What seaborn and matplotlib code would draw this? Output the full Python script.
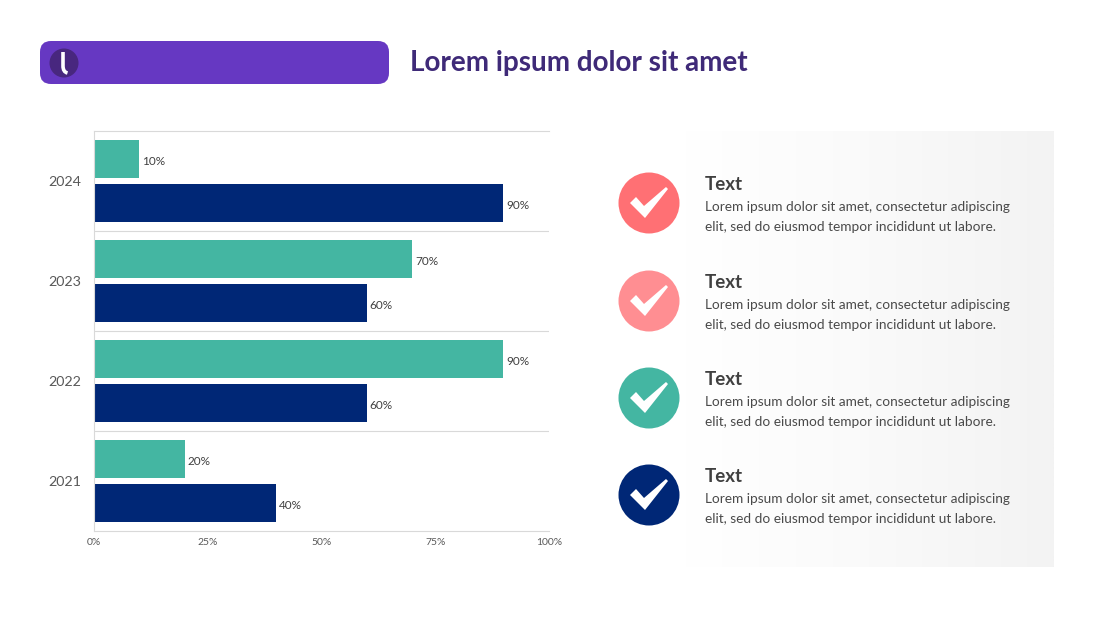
import matplotlib
matplotlib.use("Agg")
import matplotlib.pyplot as plt
from matplotlib.colors import LinearSegmentedColormap
from matplotlib.patches import Circle, FancyBboxPatch, Polygon, PathPatch
from matplotlib.path import Path
import numpy as np
import pandas as pd
import seaborn as sns

years = ["2024", "2023", "2022", "2021"]
series_a = [10, 70, 90, 20]
series_b = [90, 60, 60, 40]
x_ticks = [0, 25, 50, 75, 100]
x_labels = ["0%", "25%", "50%", "75%", "100%"]

title = "Lorem ipsum dolor sit amet"
item_head = "Text"
item_line1 = ["Lorem ipsum dolor sit amet, consectetur adipiscing"] * 4
item_line2 = ["elit, sed do eiusmod tempor incididunt ut labore."] * 4
item_colors = ["#FF7074", "#FF8E92", "#44B6A2", "#002776"]

W, H = 1100, 618

sns.set_theme(style="white")
plt.rcParams["font.family"] = ["Lato", "DejaVu Sans"]

fig = plt.figure(figsize=(W / 100, H / 100), dpi=100)

# background layer in pixel coordinates
bg = fig.add_axes([0, 0, 1, 1])
bg.axis("off")

# grey panel behind the list
grad = np.linspace(0, 1, 256).reshape(1, -1)
panel_cmap = LinearSegmentedColormap.from_list("panel", ["#ffffff", "#fafafa", "#f3f3f3"])
bg.imshow(grad, extent=[685, 1054, 567, 131], aspect="auto", zorder=0, cmap=panel_cmap)
bg.set_xlim(0, W)
bg.set_ylim(H, 0)

# header
bg.add_patch(FancyBboxPatch((40, 41), 349, 43, boxstyle="round,pad=0,rounding_size=11",
                            fc="#6638C2", ec="none", zorder=1))
bg.add_patch(Circle((64, 63), 14.5, fc="#48277F", ec="none", zorder=2))
logo = Path([(63, 52), (63, 66), (63, 72), (67.5, 73)], [Path.MOVETO, Path.LINETO, Path.CURVE3, Path.CURVE3])
bg.add_patch(PathPatch(logo, fc="none", ec="white", lw=2.6, capstyle="butt", zorder=3))
bg.text(410, 63.5, title, fontsize=20.1, fontweight="bold", color="#3F2A78", va="center", ha="left", zorder=3)

# list on the right
item_y = [203, 301, 398, 495]
for cy, col, l1, l2 in zip(item_y, item_colors, item_line1, item_line2):
    bg.add_patch(Circle((649, cy), 30.5, fc=col, ec="none", zorder=2))
    tick = [(630, cy), (636, cy - 6), (644, cy + 3), (666, cy - 16), (668, cy - 14), (645, cy + 15)]
    bg.add_patch(Polygon(tick, closed=True, fc="white", ec="none", zorder=3))
    bg.text(705, cy - 18.5, item_head, fontsize=13.5, fontweight="bold", color="#404040", va="center", zorder=3)
    bg.text(705, cy + 4, l1, fontsize=9.85, color="#4A4A4A", va="center", zorder=3)
    bg.text(705, cy + 24, l2, fontsize=9.85, color="#4A4A4A", va="center", zorder=3)

# bar chart
df = pd.DataFrame({
    "year": years * 2,
    "value": series_a + series_b,
    "series": ["a"] * 4 + ["b"] * 4,
})
ax = fig.add_axes([93.5 / W, 1 - 531 / H, 455.5 / W, 400 / H])
ax.patch.set_alpha(0)
sns.barplot(data=df, y="year", x="value", hue="series", order=years, orient="h",
            palette=["#44B6A2", "#002776"], width=0.88, gap=0.114, saturation=1,
            linewidth=0, legend=False, ax=ax, zorder=2)
for c in ax.containers:
    for t in ax.bar_label(c, fmt="%d%%", padding=2, fontsize=8.5, color="#404040"):
        t.xyann = (t.xyann[0], -2)

ax.set_xlim(0, 100)
ax.set_ylim(3.5, -0.5)
ax.set_xlabel("")
ax.set_ylabel("")
ax.set_xticks(x_ticks, x_labels)
ax.tick_params(axis="x", labelsize=7.5, labelcolor="#595959", length=0, pad=5)
ax.tick_params(axis="y", labelsize=10.3, labelcolor="#595959", length=0, pad=9)
ax.set_yticks([0.5, 1.5, 2.5], minor=True)
ax.tick_params(axis="y", which="minor", length=0)
ax.grid(axis="y", which="minor", color="#D9D9D9", lw=0.8, zorder=1)
for side in ["top", "bottom", "left"]:
    ax.spines[side].set_visible(True)
    ax.spines[side].set_color("#D9D9D9")
    ax.spines[side].set_linewidth(0.8)
ax.spines["right"].set_visible(False)

fig.savefig("out.png", dpi=100)
